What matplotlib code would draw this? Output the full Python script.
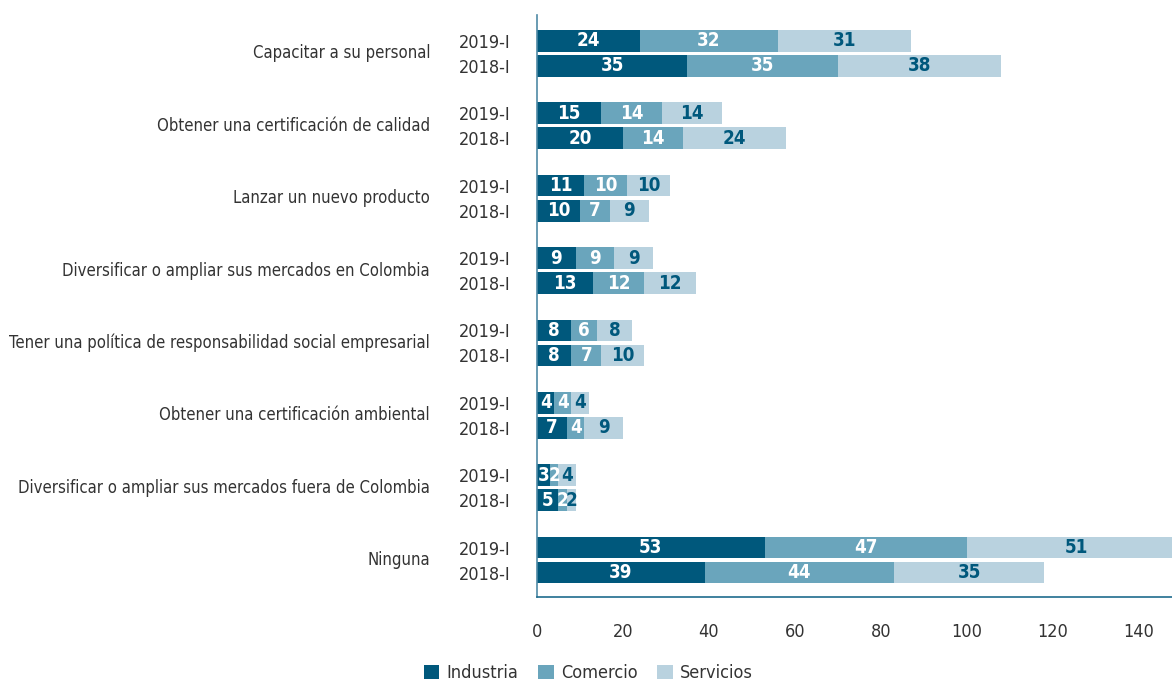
import matplotlib.pyplot as plt
import numpy as np

# data
categories = [
    "Capacitar a su personal",
    "Obtener una certificación de calidad",
    "Lanzar un nuevo producto",
    "Diversificar o ampliar sus mercados en Colombia",
    "Tener una política de responsabilidad social empresarial",
    "Obtener una certificación ambiental",
    "Diversificar o ampliar sus mercados fuera de Colombia",
    "Ninguna",
]
periods = ["2019-I", "2018-I"]
sectors = ["Industria", "Comercio", "Servicios"]

industria_2019 = [24, 15, 11, 9, 8, 4, 3, 53]
comercio_2019 = [32, 14, 10, 9, 6, 4, 2, 47]
servicios_2019 = [31, 14, 10, 9, 8, 4, 4, 51]

industria_2018 = [35, 20, 10, 13, 8, 7, 5, 39]
comercio_2018 = [35, 14, 7, 12, 7, 4, 2, 44]
servicios_2018 = [38, 24, 9, 12, 10, 9, 2, 35]

colors = ["#00587c", "#6aa5bc", "#b9d2df"]
text_colors = ["white", "white", "#00587c"]

plt.rcParams['font.family'] = ['DejaVu Sans']
plt.rcParams['font.stretch'] = 'condensed'

fig = plt.figure(figsize=(11.72, 6.83), dpi=100)
ax = fig.add_axes([537 / 1172, 86 / 683, 635 / 1172, 582 / 683])

n = len(categories)
centers = np.arange(n)
off = 0.173
h = 0.30

series = {
    "2019-I": [industria_2019, comercio_2019, servicios_2019],
    "2018-I": [industria_2018, comercio_2018, servicios_2018],
}

for p, sign in zip(periods, [-1, 1]):
    ypos = centers + sign * off
    left = np.zeros(n)
    for k, vals in enumerate(series[p]):
        vals = np.array(vals, dtype=float)
        ax.barh(ypos, vals, left=left, height=h, color=colors[k],
                label=sectors[k] if p == "2019-I" else None)
        for y, l, v in zip(ypos, left, vals):
            ax.text(l + v / 2, y, f"{int(v)}", ha="center", va="center",
                    color=text_colors[k], fontsize=13.5, fontweight="bold")
        left += vals

ax.set_xlim(0, 147.7)
ax.set_ylim(7.51, -0.53)
ax.set_xticks(np.arange(0, 141, 20))
ax.tick_params(axis="x", length=0, pad=19, labelsize=13, labelcolor="#333333")

yt = np.concatenate([centers - off, centers + off])
yl = ["2019-I"] * n + ["2018-I"] * n
ax.set_yticks(yt)
ax.set_yticklabels(yl)
ax.tick_params(axis="y", length=0, pad=19, labelsize=13, labelcolor="#333333")

for c, name in zip(centers, categories):
    ax.text(-0.1685, c, name, transform=ax.get_yaxis_transform(),
            ha="right", va="center", fontsize=12, color="#333333")

for s in ["top", "right"]:
    ax.spines[s].set_visible(False)
ax.spines["left"].set_color("#4f8aa6")
ax.spines["bottom"].set_color("#1f6c8d")
ax.spines["left"].set_linewidth(1.2)
ax.spines["bottom"].set_linewidth(1.2)

fig.legend(loc="center", bbox_to_anchor=(0.502, 1 - 673 / 683), ncol=3,
           frameon=False, fontsize=13, handlelength=0.85, handleheight=0.85,
           handletextpad=0.4, columnspacing=1.1, labelcolor="#333333")

fig.savefig("out.png", dpi=100)
